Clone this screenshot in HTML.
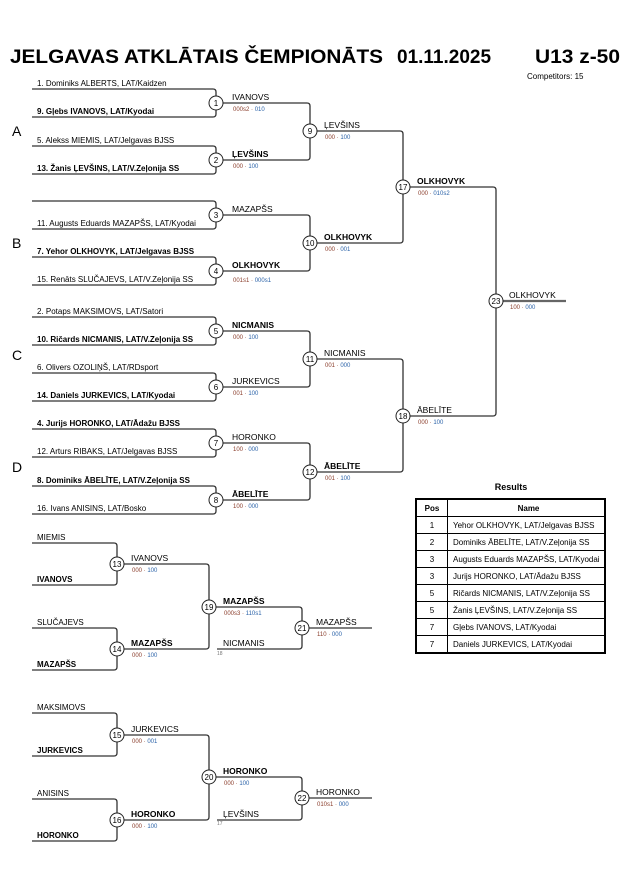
<!DOCTYPE html>
<html><head><meta charset="utf-8"><style>
body{margin:0;background:#fff}
svg{display:block;font-family:"Liberation Sans",Arial,sans-serif}
.l{fill:none;stroke:#333;stroke-width:1.3}
.e{font-size:8px;fill:#000}
.b{font-weight:bold}
.w{font-size:8.5px;fill:#000}
.s{font-size:6px;fill:#8a3d2b}
.s2{fill:#2a62a8}
.c{fill:#fff;stroke:#222;stroke-width:1}
.n{font-size:8px;text-anchor:middle}
.g{font-size:14px}
td{border:1px solid #000;font-size:8px;height:16px;padding:0 0 0 5px}
</style></head><body>
<svg width="630" height="891" viewBox="0 0 630 891">
<text x="10" y="63" style="font-size:19px;font-weight:bold" textLength="373" lengthAdjust="spacingAndGlyphs">JELGAVAS ATKLĀTAIS ČEMPIONĀTS</text>
<text x="397" y="63" style="font-size:19px;font-weight:bold">01.11.2025</text>
<text x="535" y="63" style="font-size:19px;font-weight:bold" textLength="85" lengthAdjust="spacingAndGlyphs">U13 z-50</text>
<text x="527" y="79" style="font-size:8px">Competitors: 15</text>
<text x="12" y="136" class="g">A</text><text x="12" y="248" class="g">B</text><text x="12" y="360" class="g">C</text><text x="12" y="472" class="g">D</text>
<g class="l">
<path d="M32 89H213Q216 89 216 92V114Q216 117 213 117H32"/>
<path d="M32 146H213Q216 146 216 149V171Q216 174 213 174H32"/>
<path d="M32 201H213Q216 201 216 204V226Q216 229 213 229H32"/>
<path d="M32 257H213Q216 257 216 260V282Q216 285 213 285H32"/>
<path d="M32 317H213Q216 317 216 320V342Q216 345 213 345H32"/>
<path d="M32 373H213Q216 373 216 376V398Q216 401 213 401H32"/>
<path d="M32 429H213Q216 429 216 432V454Q216 457 213 457H32"/>
<path d="M32 486H213Q216 486 216 489V511Q216 514 213 514H32"/>
<path d="M216 103H307Q310 103 310 106V157Q310 160 307 160H216"/>
<path d="M216 215H307Q310 215 310 218V268Q310 271 307 271H216"/>
<path d="M216 331H307Q310 331 310 334V384Q310 387 307 387H216"/>
<path d="M216 443H307Q310 443 310 446V497Q310 500 307 500H216"/>
<path d="M310 131H400Q403 131 403 134V240Q403 243 400 243H310"/>
<path d="M310 359H400Q403 359 403 362V469Q403 472 400 472H310"/>
<path d="M403 187H493Q496 187 496 190V413Q496 416 493 416H403"/>
<path d="M496 301H566" style="stroke-width:2.2;stroke:#666"/>
<path d="M32 543H114Q117 543 117 546V582Q117 585 114 585H32"/>
<path d="M32 628H114Q117 628 117 631V667Q117 670 114 670H32"/>
<path d="M117 564H206Q209 564 209 567V646Q209 649 206 649H117"/>
<path d="M209 607H299Q302 607 302 610V646Q302 649 299 649H217"/>
<path d="M302 628H372"/>
<path d="M32 713H114Q117 713 117 716V753Q117 756 114 756H32"/>
<path d="M32 799H114Q117 799 117 802V838Q117 841 114 841H32"/>
<path d="M117 735H206Q209 735 209 738V817Q209 820 206 820H117"/>
<path d="M209 777H299Q302 777 302 780V817Q302 820 299 820H217"/>
<path d="M302 798H372"/>
</g>
<g class="e">
<text x="37" y="86">1. Dominiks ALBERTS, LAT/Kaidzen</text>
<text x="37" y="114" class="b">9. Gļebs IVANOVS, LAT/Kyodai</text>
<text x="37" y="143">5. Alekss MIEMIS, LAT/Jelgavas BJSS</text>
<text x="37" y="171" class="b">13. Žanis ĻEVŠINS, LAT/V.Zeļonija SS</text>
<text x="37" y="226">11. Augusts Eduards MAZAPŠS, LAT/Kyodai</text>
<text x="37" y="254" class="b">7. Yehor OLKHOVYK, LAT/Jelgavas BJSS</text>
<text x="37" y="282">15. Renāts SLUČAJEVS, LAT/V.Zeļonija SS</text>
<text x="37" y="314">2. Potaps MAKSIMOVS, LAT/Satori</text>
<text x="37" y="342" class="b">10. Ričards NICMANIS, LAT/V.Zeļonija SS</text>
<text x="37" y="370">6. Olivers OZOLIŅŠ, LAT/RDsport</text>
<text x="37" y="398" class="b">14. Daniels JURKEVICS, LAT/Kyodai</text>
<text x="37" y="426" class="b">4. Jurijs HORONKO, LAT/Ādažu BJSS</text>
<text x="37" y="454">12. Arturs RIBAKS, LAT/Jelgavas BJSS</text>
<text x="37" y="483" class="b">8. Dominiks ĀBELĪTE, LAT/V.Zeļonija SS</text>
<text x="37" y="511">16. Ivans ANISINS, LAT/Bosko</text>
<text x="37" y="540">MIEMIS</text>
<text x="37" y="582" class="b">IVANOVS</text>
<text x="37" y="625">SLUČAJEVS</text>
<text x="37" y="667" class="b">MAZAPŠS</text>
<text x="37" y="710">MAKSIMOVS</text>
<text x="37" y="753" class="b">JURKEVICS</text>
<text x="37" y="796">ANISINS</text>
<text x="37" y="838" class="b">HORONKO</text>
</g>
<g class="w">
<text x="232" y="100">IVANOVS</text>
<text x="232" y="157" class="b">ĻEVŠINS</text>
<text x="232" y="212">MAZAPŠS</text>
<text x="232" y="268" class="b">OLKHOVYK</text>
<text x="232" y="328" class="b">NICMANIS</text>
<text x="232" y="384">JURKEVICS</text>
<text x="232" y="440">HORONKO</text>
<text x="232" y="497" class="b">ĀBELĪTE</text>
<text x="324" y="128">ĻEVŠINS</text>
<text x="324" y="240" class="b">OLKHOVYK</text>
<text x="324" y="356">NICMANIS</text>
<text x="324" y="469" class="b">ĀBELĪTE</text>
<text x="417" y="184" class="b">OLKHOVYK</text>
<text x="417" y="413">ĀBELĪTE</text>
<text x="509" y="298">OLKHOVYK</text>
<text x="131" y="561">IVANOVS</text>
<text x="131" y="646" class="b">MAZAPŠS</text>
<text x="223" y="604" class="b">MAZAPŠS</text>
<text x="223" y="646">NICMANIS</text>
<text x="316" y="625">MAZAPŠS</text>
<text x="131" y="732">JURKEVICS</text>
<text x="131" y="817" class="b">HORONKO</text>
<text x="223" y="774" class="b">HORONKO</text>
<text x="223" y="817">ĻEVŠINS</text>
<text x="316" y="795">HORONKO</text>
</g>
<g class="s">
<text x="233" y="111">000s2 · <tspan class="s2">010</tspan></text>
<text x="233" y="168">000 · <tspan class="s2">100</tspan></text>
<text x="233" y="282">001s1 · <tspan class="s2">000s1</tspan></text>
<text x="233" y="339">000 · <tspan class="s2">100</tspan></text>
<text x="233" y="395">001 · <tspan class="s2">100</tspan></text>
<text x="233" y="451">100 · <tspan class="s2">000</tspan></text>
<text x="233" y="508">100 · <tspan class="s2">000</tspan></text>
<text x="325" y="139">000 · <tspan class="s2">100</tspan></text>
<text x="325" y="251">000 · <tspan class="s2">001</tspan></text>
<text x="325" y="367">001 · <tspan class="s2">000</tspan></text>
<text x="325" y="480">001 · <tspan class="s2">100</tspan></text>
<text x="418" y="195">000 · <tspan class="s2">010s2</tspan></text>
<text x="418" y="424">000 · <tspan class="s2">100</tspan></text>
<text x="510" y="309">100 · <tspan class="s2">000</tspan></text>
<text x="132" y="572">000 · <tspan class="s2">100</tspan></text>
<text x="132" y="657">000 · <tspan class="s2">100</tspan></text>
<text x="224" y="615">000s3 · <tspan class="s2">110s1</tspan></text>
<text x="317" y="636">110 · <tspan class="s2">000</tspan></text>
<text x="132" y="743">000 · <tspan class="s2">001</tspan></text>
<text x="132" y="828">000 · <tspan class="s2">100</tspan></text>
<text x="224" y="785">000 · <tspan class="s2">100</tspan></text>
<text x="317" y="806">010s1 · <tspan class="s2">000</tspan></text>
<text x="217" y="655" style="fill:#777;font-size:5px">18</text>
<text x="217" y="825" style="fill:#777;font-size:5px">17</text>
</g>
<g>
<circle class="c" cx="216" cy="103" r="7"/><circle class="c" cx="216" cy="160" r="7"/><circle class="c" cx="216" cy="215" r="7"/><circle class="c" cx="216" cy="271" r="7"/>
<circle class="c" cx="216" cy="331" r="7"/><circle class="c" cx="216" cy="387" r="7"/><circle class="c" cx="216" cy="443" r="7"/><circle class="c" cx="216" cy="500" r="7"/>
<circle class="c" cx="310" cy="131" r="7"/><circle class="c" cx="310" cy="243" r="7"/><circle class="c" cx="310" cy="359" r="7"/><circle class="c" cx="310" cy="472" r="7"/>
<circle class="c" cx="403" cy="187" r="7"/><circle class="c" cx="403" cy="416" r="7"/><circle class="c" cx="496" cy="301" r="7"/>
<circle class="c" cx="117" cy="564" r="7"/><circle class="c" cx="117" cy="649" r="7"/><circle class="c" cx="209" cy="607" r="7"/><circle class="c" cx="302" cy="628" r="7"/>
<circle class="c" cx="117" cy="735" r="7"/><circle class="c" cx="117" cy="820" r="7"/><circle class="c" cx="209" cy="777" r="7"/><circle class="c" cx="302" cy="798" r="7"/>
</g>
<g class="n">
<text x="216" y="106">1</text><text x="216" y="163">2</text><text x="216" y="218">3</text><text x="216" y="274">4</text>
<text x="216" y="334">5</text><text x="216" y="390">6</text><text x="216" y="446">7</text><text x="216" y="503">8</text>
<text x="310" y="134">9</text><text x="310" y="246">10</text><text x="310" y="362">11</text><text x="310" y="475">12</text>
<text x="403" y="190">17</text><text x="403" y="419">18</text><text x="496" y="304">23</text>
<text x="117" y="567">13</text><text x="117" y="652">14</text><text x="209" y="610">19</text><text x="302" y="631">21</text>
<text x="117" y="738">15</text><text x="117" y="823">16</text><text x="209" y="780">20</text><text x="302" y="801">22</text>
</g>
<text x="511" y="490" style="font-size:9px;font-weight:bold;text-anchor:middle">Results</text>
<foreignObject x="415" y="498" width="193" height="164">
<table xmlns="http://www.w3.org/1999/xhtml" style="border-collapse:collapse;border:2px solid #000;width:191px;font-family:'Liberation Sans',sans-serif">
<tr><td style="text-align:center;font-weight:bold;padding:0;width:30px">Pos</td><td style="text-align:center;font-weight:bold">Name</td></tr>
<tr><td style="text-align:center;padding:0">1</td><td>Yehor OLKHOVYK, LAT/Jelgavas BJSS</td></tr>
<tr><td style="text-align:center;padding:0">2</td><td>Dominiks ĀBELĪTE, LAT/V.Zeļonija SS</td></tr>
<tr><td style="text-align:center;padding:0">3</td><td style="white-space:nowrap">Augusts Eduards MAZAPŠS, LAT/Kyodai</td></tr>
<tr><td style="text-align:center;padding:0">3</td><td>Jurijs HORONKO, LAT/Ādažu BJSS</td></tr>
<tr><td style="text-align:center;padding:0">5</td><td>Ričards NICMANIS, LAT/V.Zeļonija SS</td></tr>
<tr><td style="text-align:center;padding:0">5</td><td>Žanis ĻEVŠINS, LAT/V.Zeļonija SS</td></tr>
<tr><td style="text-align:center;padding:0">7</td><td>Gļebs IVANOVS, LAT/Kyodai</td></tr>
<tr><td style="text-align:center;padding:0">7</td><td>Daniels JURKEVICS, LAT/Kyodai</td></tr>
</table>
</foreignObject>
</svg>
</body></html>
